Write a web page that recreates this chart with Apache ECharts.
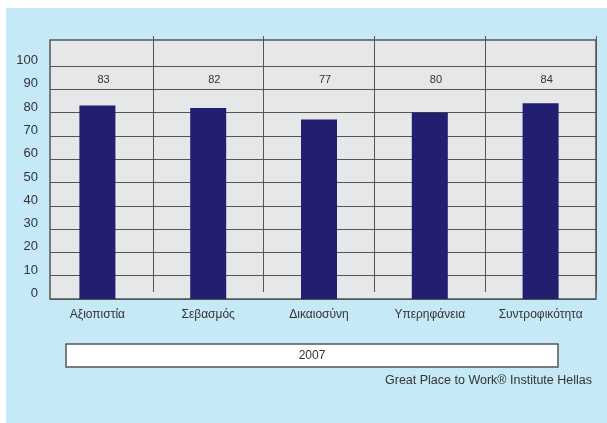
<!DOCTYPE html>
<html lang="el">
<head>
    <meta charset="utf-8"/>
    <title>Great Place to Work 2007</title>
    <script src="https://cdn.jsdelivr.net/npm/echarts@6/dist/echarts.min.js"></script>
    <style>
        html, body { margin: 0; padding: 0; background: #fff; }
        #main { width: 607px; height: 423px; }
    </style>
</head>
<body>
<div id="main"></div>
<script type="text/javascript">

    // data
    var categories = ['Αξιοπιστία', 'Σεβασμός', 'Δικαιοσύνη', 'Υπερηφάνεια', 'Συντροφικότητα'];
    var scores = [83, 82, 77, 80, 84];
    var yMin = 0, yMax = 100, yStep = 10;
    var yearLabel = '2007';
    var sourceNote = 'Great Place to Work® Institute Hellas';

    var font = '"Liberation Sans", Arial, sans-serif';
    var textColor = '#333';

    var myChart = echarts.init(document.getElementById('main'));

    var option = {
        backgroundColor: '#fff',
        animation: false,
        grid: [
            // 0: horizontal grid lines + y labels (inside the grey panel)
            {left: 50, right: 11, top: 66, bottom: 124},
            // 1: bars and category labels
            {left: 42, right: 11, top: 66, bottom: 124},
            // 2: vertical separators between categories
            {left: 42, right: 11, top: 36, bottom: 131}
        ],
        xAxis: [
            {gridIndex: 0, type: 'category', data: categories, show: false},
            {
                gridIndex: 1, type: 'category', data: categories,
                axisLine: {show: false}, axisTick: {show: false},
                axisLabel: {margin: 10, fontSize: 12, color: textColor, fontFamily: font}
            },
            {
                gridIndex: 2, type: 'category', data: categories,
                axisLine: {show: false}, axisTick: {show: false}, axisLabel: {show: false},
                splitLine: {
                    show: true,
                    interval: function (i) { return i > 0; },
                    lineStyle: {color: '#555', width: 1}
                }
            }
        ],
        yAxis: [
            {
                gridIndex: 0, type: 'value', min: yMin, max: yMax, interval: yStep,
                axisLine: {show: false}, axisTick: {show: false},
                axisLabel: {
                    margin: 12, fontSize: 13, color: textColor, fontFamily: font,
                    verticalAlign: 'bottom', lineHeight: 11
                },
                splitLine: {lineStyle: {color: '#555', width: 1}}
            },
            {gridIndex: 1, type: 'value', min: yMin, max: yMax, interval: yStep, show: false},
            {gridIndex: 2, type: 'value', show: false}
        ],
        series: [
            {
                type: 'bar',
                xAxisIndex: 1,
                yAxisIndex: 1,
                data: scores,
                barWidth: 36,
                itemStyle: {color: '#221e70'},
                label: {
                    show: true,
                    position: 'top',
                    fontSize: 11,
                    color: textColor,
                    fontFamily: font
                },
                labelLayout: function () {
                    return {y: 80, verticalAlign: 'middle'};
                }
            }
        ],
        graphic: [
            {
                type: 'rect', z: -20, silent: true,
                shape: {x: 6, y: 8, width: 601, height: 415},
                style: {fill: '#c6e9f8'}
            },
            {
                type: 'rect', z: -10, silent: true,
                shape: {x: 50, y: 40, width: 546, height: 259},
                style: {fill: '#e6e7e9', stroke: '#555', lineWidth: 1.5}
            },
            {
                type: 'rect', silent: true,
                shape: {x: 66, y: 344, width: 492, height: 23},
                style: {fill: '#fff', stroke: '#555', lineWidth: 1.5}
            },
            {
                type: 'text', silent: true,
                x: 312, y: 356,
                style: {
                    text: yearLabel, fill: textColor, font: '12px ' + font,
                    textAlign: 'center', textVerticalAlign: 'middle'
                }
            },
            {
                type: 'text', silent: true,
                x: 592, y: 381,
                style: {
                    text: sourceNote, fill: textColor, font: '12.5px ' + font,
                    textAlign: 'right', textVerticalAlign: 'middle'
                }
            }
        ]
    };

    myChart.setOption(option);
</script>
</body>
</html>
